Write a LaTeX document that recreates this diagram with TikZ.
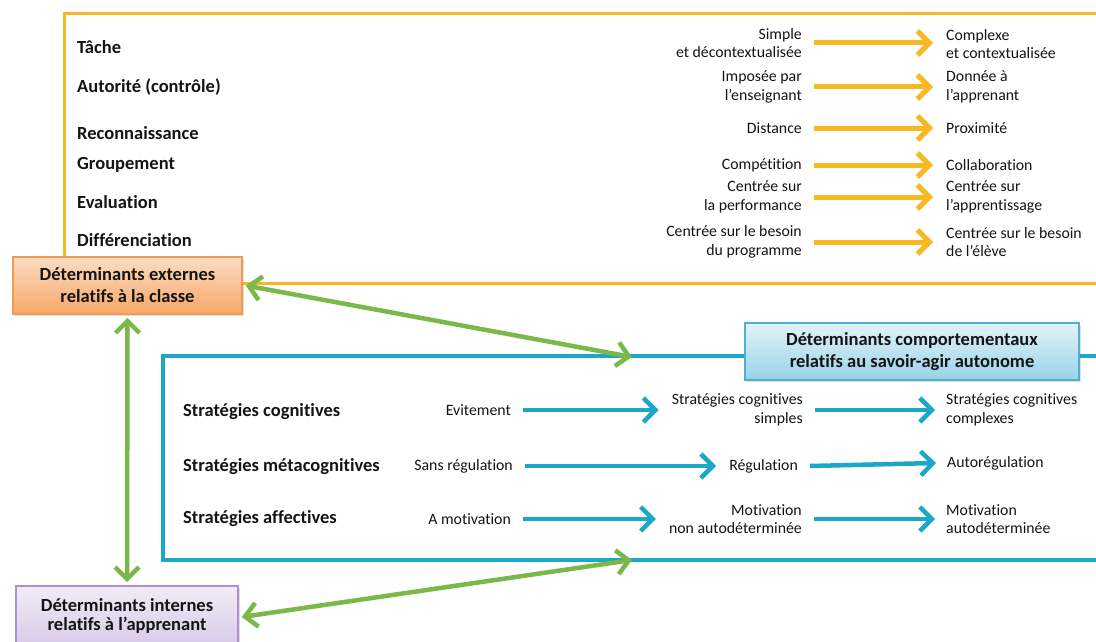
\documentclass[tikz,border=0pt]{standalone}
\usepackage{fontspec}
\setmainfont{Carlito}[Ligatures=NoCommon]
\usetikzlibrary{arrows.meta,shadows}

\definecolor{gold}{HTML}{F8B822}
\definecolor{teal}{HTML}{1BA8C8}
\definecolor{leaf}{HTML}{7BB84A}
\definecolor{orangeline}{HTML}{F39A52}
\definecolor{orangetop}{HTML}{FCDCC3}
\definecolor{orangebot}{HTML}{F8A767}
\definecolor{lilacline}{HTML}{B08FCC}
\definecolor{lilactop}{HTML}{F1ECF6}
\definecolor{lilacbot}{HTML}{D8C8E8}
\definecolor{skyline}{HTML}{4BB1CE}
\definecolor{skytop}{HTML}{E2F3F9}
\definecolor{skybot}{HTML}{98D3E6}
\definecolor{ink}{HTML}{141414}

\tikzset{
  rowlabel/.style={anchor=west, inner sep=0pt, font=\fontsize{18.5}{22}\selectfont\bfseries, text=ink},
  lefttxt/.style={anchor=east, inner sep=0pt, align=right, font=\fontsize{15.8}{18.5}\selectfont, text=ink},
  righttxt/.style={anchor=west, inner sep=0pt, align=left, font=\fontsize{15.8}{18.5}\selectfont, text=ink},
  titlebox/.style={draw, line width=1.6pt, align=center, inner sep=0pt,
    font=\fontsize{18.5}{22}\selectfont\bfseries, text=ink,
    drop shadow={shadow xshift=1.5pt, shadow yshift=-2pt, opacity=0.25}},
  barb/.tip={Straight Barb[length=12pt,width=24pt]},
  goldarrow/.style={draw=gold, line width=5pt, -barb},
  tealarrow/.style={draw=teal, line width=4.5pt, -barb},
  leafarrow/.style={draw=leaf, line width=4.5pt, barb-barb},
}

\begin{document}
\begin{tikzpicture}[x=1pt, y=-1pt]
\useasboundingbox[fill=white] (0,0) rectangle (1096,642);

% outer frames, open on the right
\draw[gold, line width=3pt] (1110,14) -- (64,14) -- (64,283) -- (1110,283);
\draw[teal, line width=3.5pt] (1110,356) -- (163,356) -- (163,560) -- (1110,560);

% classroom determinants
\node[rowlabel] (t1) at (77,47)  {Tâche};
\node[rowlabel] (t2) at (77,87)  {Autorité (contrôle)};
\node[rowlabel] (t3) at (77,133) {Reconnaissance};
\node[rowlabel] (t4) at (77,165) {Groupement};
\node[rowlabel] (t5) at (77,202) {Evaluation};
\node[rowlabel] (t6) at (77,240) {Différenciation};

\node[lefttxt] (a1) at (802,43)  {Simple\\et décontextualisée};
\node[lefttxt] (a2) at (802,87)  {Imposée par\\l’enseignant};
\node[lefttxt] (a3) at (802,128) {Distance};
\node[lefttxt] (a4) at (802,165) {Compétition};
\node[lefttxt] (a5) at (802,197) {Centrée sur\\la performance};
\node[lefttxt] (a6) at (802,242) {Centrée sur le besoin\\du programme};

\node[righttxt] (b1) at (946,44)  {Complexe\\et contextualisée};
\node[righttxt] (b2) at (946,87)  {Donnée à\\l’apprenant};
\node[righttxt] (b3) at (946,128) {Proximité};
\node[righttxt] (b4) at (946,165) {Collaboration};
\node[righttxt] (b5) at (946,197) {Centrée sur\\l’apprentissage};
\node[righttxt] (b6) at (946,242) {Centrée sur le besoin\\de l’élève};

\foreach \i in {1,...,6}
  \draw[goldarrow] ([xshift=12pt]a\i.east) -- ([xshift=-13pt]b\i.west |- a\i.east);

% behavioural determinants
\node[rowlabel] (s1) at (183,412) {Stratégies cognitives};
\node[rowlabel] (s2) at (183,467) {Stratégies métacognitives};
\node[rowlabel] (s3) at (183,519) {Stratégies affectives};

\node[lefttxt] (c1) at (511,410) {Evitement};
\node[lefttxt] (c2) at (513,466) {Sans régulation};
\node[lefttxt] (c3) at (511,519) {A motivation};

\node[lefttxt] (d1) at (803,410) {Stratégies cognitives\\simples};
\node[lefttxt] (d2) at (798,466) {Régulation};
\node[lefttxt] (d3) at (802,519) {Motivation\\non autodéterminée};

\node[righttxt] (e1) at (946,410) {Stratégies cognitives\\complexes};
\node[righttxt] (e2) at (947,463) {Autorégulation};
\node[righttxt] (e3) at (946,519) {Motivation\\autodéterminée};

\foreach \i in {1,2,3} {
  \draw[tealarrow] ([xshift=12pt]c\i.east) -- ([xshift=-13pt]d\i.west |- c\i.east);
  \draw[tealarrow] ([xshift=12pt]d\i.east) -- ([xshift=-11pt]e\i.west);
}

% determinant boxes
\node[titlebox, draw=orangeline, top color=orangetop, bottom color=orangebot,
      minimum width=229pt, minimum height=57pt] (ext) at (127.5,285.5)
      {Déterminants externes\\relatifs à la classe};
\node[titlebox, draw=lilacline, top color=lilactop, bottom color=lilacbot,
      minimum width=222pt, minimum height=62pt] (int) at (127,617)
      {\raisebox{5pt}{\shortstack{Déterminants internes\\[2pt]relatifs à l’apprenant}}};
\node[titlebox, draw=skyline, top color=skytop, bottom color=skybot,
      minimum width=334pt, minimum height=57pt] (beh) at (912,351.5)
      {Déterminants comportementaux\\relatifs au savoir-agir autonome};

% links between the three kinds of determinants
\coordinate (behin)  at (632,357);
\coordinate (behout) at (632,560);
\draw[leafarrow] ([xshift=3pt]ext.east) -- (behin);
\draw[leafarrow] ([yshift=-3pt]ext.south) -- ([yshift=3pt]int.north);
\draw[leafarrow] ([xshift=3pt]int.east) -- (behout);
\end{tikzpicture}
\end{document}
